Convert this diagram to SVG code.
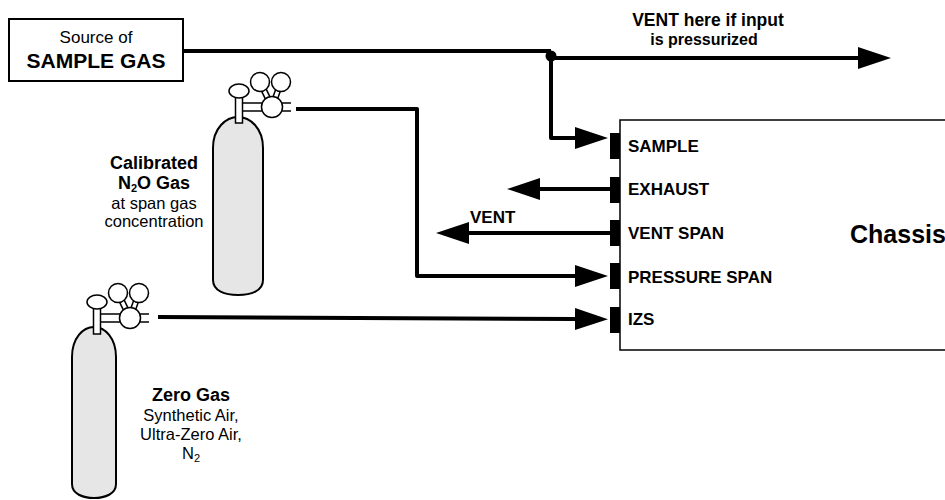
<svg xmlns="http://www.w3.org/2000/svg" xmlns:xlink="http://www.w3.org/1999/xlink" width="945" height="500" viewBox="0 0 945 500">
<style>
  text { font-family: "Liberation Sans", Arial, sans-serif; fill: #000; }
  .b { font-weight: bold; }
  .pipe { fill: none; stroke: #000; stroke-width: 4; stroke-linejoin: round; }
  .cyl { fill: #e6e6e6; stroke: #000; stroke-width: 2; }
  .port { fill: #000; }
  .lbl { font-weight: bold; font-size: 17px; }
</style>
<defs>
  <marker id="ah" markerUnits="userSpaceOnUse" markerWidth="33" markerHeight="22" refX="0" refY="11" orient="auto" viewBox="0 0 33 22">
    <path d="M0,0 L33,11 L0,22 Z" fill="#000"/>
  </marker>
  <g id="reg">
    <line x1="3" y1="16" x2="52" y2="16" stroke="#000" stroke-width="9.5"/>
    <line x1="3" y1="16" x2="52" y2="16" stroke="#fff" stroke-width="6.5"/>
    <line x1="21" y1="-9" x2="33" y2="16" stroke="#000" stroke-width="6.5"/>
    <line x1="21" y1="-9" x2="33" y2="16" stroke="#fff" stroke-width="3.5"/>
    <line x1="42" y1="-9" x2="33" y2="16" stroke="#000" stroke-width="6.5"/>
    <line x1="42" y1="-9" x2="33" y2="16" stroke="#fff" stroke-width="3.5"/>
    <circle cx="21" cy="-9" r="9.5" fill="#fff" stroke="#000" stroke-width="1.5"/>
    <circle cx="42" cy="-9" r="9.5" fill="#fff" stroke="#000" stroke-width="1.5"/>
    <circle cx="33" cy="16" r="10.5" fill="#fff" stroke="#000" stroke-width="1.5"/>
    <rect x="-3.5" y="5" width="7" height="27" fill="#fff" stroke="#000" stroke-width="1.5"/>
    <ellipse cx="0" cy="0" rx="10" ry="7" fill="#fff" stroke="#000" stroke-width="1.5"/>
  </g>
</defs>

<g id="source">
  <rect x="9" y="19" width="174" height="62" fill="#fff" stroke="#000" stroke-width="2"/>
  <text x="96" y="43" text-anchor="middle" font-size="17">Source of</text>
  <text x="96" y="68" text-anchor="middle" class="b" font-size="21">SAMPLE GAS</text>
</g>

<g id="calibrated-cylinder">
  <path class="cyl" d="M213,148 C213,128 226,117 238,117 C250,117 263,128 263,148 L263,280 C263,291 251,295 238,295 C225,295 213,291 213,280 Z"/>
  <use xlink:href="#reg" href="#reg" transform="translate(239,91)"/>
  <text x="154" y="169" text-anchor="middle" class="b" font-size="18">Calibrated</text>
  <text x="154" y="189" text-anchor="middle" class="b" font-size="18">N<tspan font-size="11" dy="2.5">2</tspan><tspan dy="-2.5">O Gas</tspan></text>
  <text x="154" y="209" text-anchor="middle" font-size="16.5">at span gas</text>
  <text x="154" y="227" text-anchor="middle" font-size="16.5">concentration</text>
</g>

<g id="zero-cylinder">
  <path class="cyl" d="M72,357 C72,338 83,327 94,327 C105,327 116,338 116,357 L116,484 C116,494 105,498 94,498 C83,498 72,494 72,484 Z"/>
  <use xlink:href="#reg" href="#reg" transform="translate(97,302)"/>
  <text x="191" y="401" text-anchor="middle" class="b" font-size="18">Zero Gas</text>
  <text x="191" y="421" text-anchor="middle" font-size="16.5">Synthetic Air,</text>
  <text x="191" y="440" text-anchor="middle" font-size="16.5">Ultra-Zero Air,</text>
  <text x="191" y="459" text-anchor="middle" font-size="16.5">N<tspan font-size="11" dy="3">2</tspan></text>
</g>

<g id="chassis">
  <rect x="620" y="120" width="340" height="230" fill="#fff" stroke="#000" stroke-width="1.5"/>
  <text x="850" y="243" class="b" font-size="25">Chassis</text>
  <rect class="port" x="610" y="133" width="10" height="26"/>
  <rect class="port" x="610" y="177" width="10" height="26"/>
  <rect class="port" x="610" y="220" width="10" height="26"/>
  <rect class="port" x="610" y="263" width="10" height="26"/>
  <rect class="port" x="610" y="307" width="10" height="26"/>
  <text x="628" y="152" class="lbl">SAMPLE</text>
  <text x="628" y="195" class="lbl">EXHAUST</text>
  <text x="628" y="239" class="lbl">VENT SPAN</text>
  <text x="628" y="283" class="lbl">PRESSURE SPAN</text>
  <text x="628" y="325" class="lbl">IZS</text>
</g>

<g id="connectors">
  <line class="pipe" x1="183" y1="51" x2="551" y2="51"/>
  <line class="pipe" x1="551" y1="58" x2="858" y2="58" marker-end="url(#ah)"/>
  <circle cx="551" cy="56" r="5.5" fill="#000"/>
  <polyline class="pipe" points="551,56 551,138 575,138" marker-end="url(#ah)"/>
  <line class="pipe" x1="610" y1="189" x2="540" y2="189" marker-end="url(#ah)"/>
  <line class="pipe" x1="610" y1="233" x2="469" y2="233" marker-end="url(#ah)"/>
  <polyline class="pipe" points="296,109 417,109 417,276 575,276" marker-end="url(#ah)"/>
  <line class="pipe" x1="158" y1="317" x2="575" y2="319" marker-end="url(#ah)"/>
  <text x="708" y="26" text-anchor="middle" class="b" font-size="17.5">VENT here if input</text>
  <text x="704" y="45" text-anchor="middle" class="b" font-size="16">is pressurized</text>
  <text x="470" y="223" class="b" font-size="17">VENT</text>
</g>
</svg>
